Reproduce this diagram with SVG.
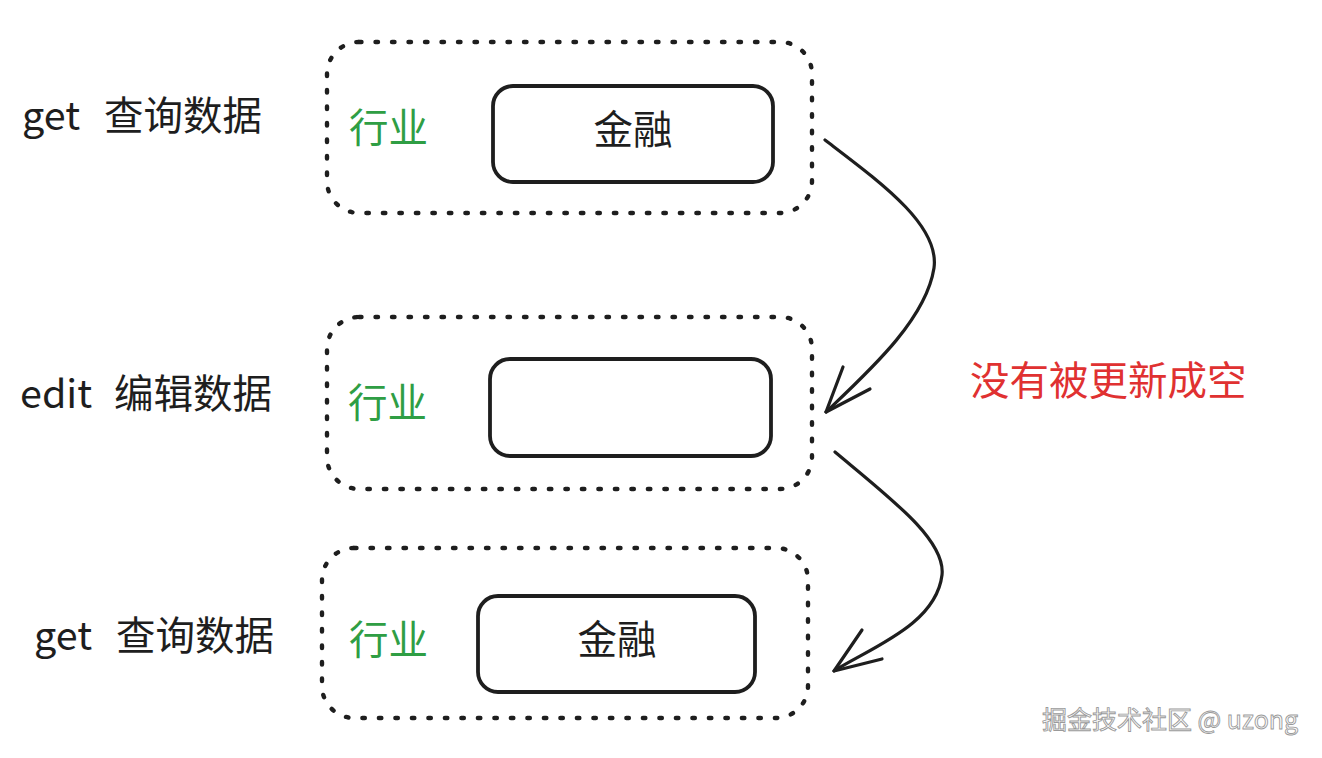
<svg xmlns="http://www.w3.org/2000/svg" width="1322" height="758" viewBox="0 0 1322 758">
<style>
.t{font-family:"Noto Sans CJK SC","Noto Sans",sans-serif;font-size:39.5px;fill:#1e1e1e}
.g{fill:#2f9e44}
.r{fill:#e03131}
.dash{fill:none;stroke:#1e1e1e;stroke-width:4.4;stroke-dasharray:2.5 14;stroke-linecap:round}
.box{fill:#fff;stroke:#1e1e1e;stroke-width:3.8}
.conn{fill:none;stroke:#1e1e1e;stroke-width:3.2;stroke-linecap:round;stroke-linejoin:round}
.wm{font-family:"Noto Sans CJK SC","Noto Sans",sans-serif;font-size:25px;fill:#fff;stroke:#9a9a9a;stroke-width:0.9}
</style>
<rect width="1322" height="758" fill="#fff"/>
<g id="row1">
  <text class="t" x="22" y="130">get<tspan x="104">查询数据</tspan></text>
  <rect class="dash" x="327" y="42" width="485" height="171" rx="32"/>
  <text class="t g" x="349" y="142">行业</text>
  <g id="box1">
    <rect class="box" x="493" y="86" width="280" height="96" rx="20"/>
    <text class="t" x="633" y="144" text-anchor="middle">金融</text>
  </g>
</g>
<g id="row2">
  <text class="t" x="20" y="408">edit<tspan x="114">编辑数据</tspan></text>
  <rect class="dash" x="327" y="317" width="485" height="172" rx="32"/>
  <text class="t g" x="348" y="417">行业</text>
  <g id="box2">
    <rect class="box" x="490" y="359" width="281" height="97" rx="20"/>
  </g>
</g>
<g id="row3">
  <text class="t" x="34" y="650">get<tspan x="116">查询数据</tspan></text>
  <rect class="dash" x="322" y="548" width="486" height="170" rx="32"/>
  <text class="t g" x="349" y="654">行业</text>
  <g id="box3">
    <rect class="box" x="478" y="596" width="277" height="96" rx="20"/>
    <text class="t" x="617" y="654" text-anchor="middle">金融</text>
  </g>
</g>
<g id="connectors">
  <path class="conn" d="M825,140 C880,182 940,225 934,268 C926,320 868,372 826,412"/>
  <path class="conn" d="M843,367 L826,412 L870,389"/>
  <path class="conn" stroke-width="4" d="M835,452 C890,498 946,540 942,575 C936,625 870,648 834,671"/>
  <path class="conn" stroke-width="4" d="M862,630 L834,671 L882,659"/>
</g>
<g id="label">
  <text class="t r" x="970" y="395">没有被更新成空</text>
</g>
<g id="watermark">
  <text class="wm" x="1042" y="729">掘金技术社区 @ uzong</text>
</g>
</svg>
